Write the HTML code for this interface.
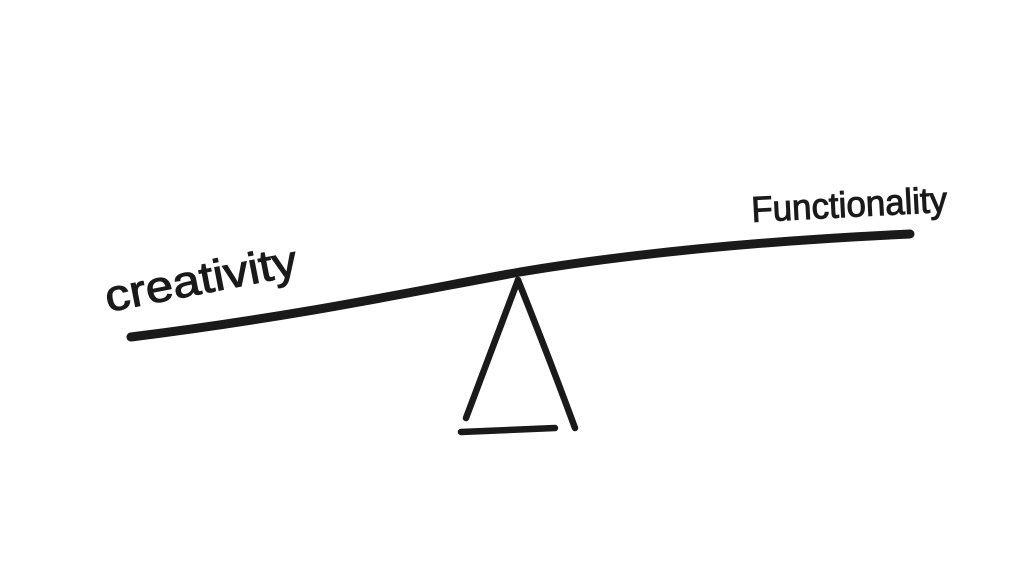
<!DOCTYPE html>
<html><head><meta charset="utf-8"><style>
html,body{margin:0;padding:0;background:#fff;width:1024px;height:576px;overflow:hidden}
</style></head><body>
<svg width="1024" height="576" viewBox="0 0 1024 576" xmlns="http://www.w3.org/2000/svg">
<rect width="1024" height="576" fill="#fff"/>
<g stroke="#1a1a1a" stroke-linecap="round" fill="none">
<path d="M131 337 C300 316 420 290 520 272 C640 252 780 240 910 234" stroke-width="9"/>
<path d="M518 280 L466 418" stroke-width="6.5"/>
<path d="M518 280 Q550 360 575 428" stroke-width="6.5"/>
<path d="M461 432 L555 428" stroke-width="6.5"/>
</g>
<text x="0" y="0" transform="translate(108,312) rotate(-11)" font-family="Liberation Sans Narrow, Liberation Sans, sans-serif" font-size="44" fill="#1a1a1a" stroke="#1a1a1a" stroke-width="1" textLength="195" lengthAdjust="spacingAndGlyphs">creativity</text>
<text x="0" y="0" transform="translate(752,222) rotate(-3)" font-family="Liberation Sans Narrow, Liberation Sans, sans-serif" font-size="36" fill="#1a1a1a" stroke="#1a1a1a" stroke-width="1" textLength="196" lengthAdjust="spacingAndGlyphs">Functionality</text>
</svg>
</body></html>
